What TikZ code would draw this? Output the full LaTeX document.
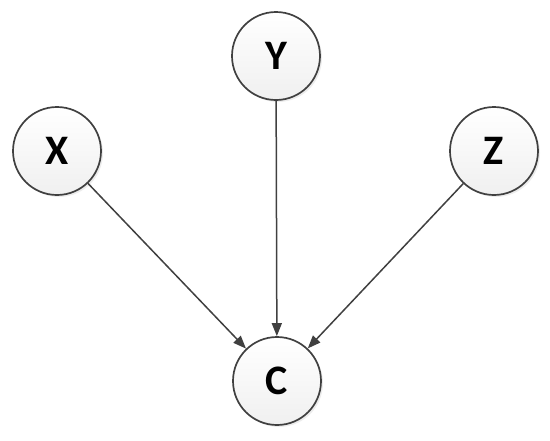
\documentclass[tikz,border=0pt]{standalone}
\usepackage{fontspec}
\setmainfont{Carlito}
\usetikzlibrary{arrows.meta,shadows}
\begin{document}
\begin{tikzpicture}[x=1pt,y=-1pt,
  vnode/.style={circle,draw=black!75,line width=1.7pt,minimum size=88pt,inner sep=0pt,
    top color=white,bottom color=black!6,
    drop shadow={shadow xshift=2pt,shadow yshift=-2pt,opacity=0.15},
    font=\fontsize{42}{42}\selectfont\bfseries},
  edge/.style={draw=black!75,line width=1.5pt,-{Triangle[length=13pt,width=10pt]}}]
\useasboundingbox (0,0) rectangle (550,440);
\node[vnode] (Y) at (276,56) {Y};
\node[vnode] (X) at (57,151) {X};
\node[vnode] (Z) at (494,151) {Z};
\node[vnode] (C) at (277,381) {C};
\draw[edge] (X) -- (C);
\draw[edge] (Y) -- (C);
\draw[edge] (Z) -- (C);
\end{tikzpicture}
\end{document}
